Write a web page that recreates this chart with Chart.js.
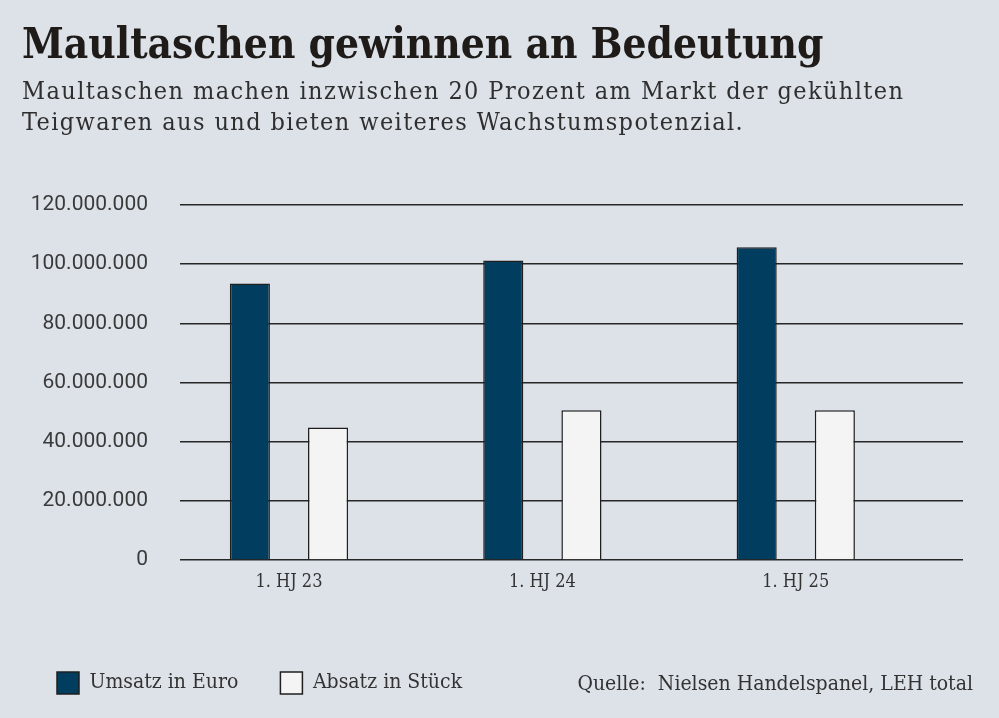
<!DOCTYPE html>
<html lang="de">
<head>
<meta charset="utf-8">
<title>Maultaschen gewinnen an Bedeutung</title>
<script src="https://cdn.jsdelivr.net/npm/chart.js@4/dist/chart.umd.min.js"></script>
<style>
    html, body {
        margin: 0;
        padding: 0;
        background: #dde2e9;
    }
    #page {
        position: relative;
        width: 999px;
        height: 718px;
        overflow: hidden;
        background: #dde2e9;
    }
    #chart-wrap {
        position: absolute;
        left: 0;
        top: 0;
        width: 999px;
        height: 718px;
    }
    .title {
        position: absolute;
        left: 22px;
        top: 16px;
        margin: 0;
        font-family: "DejaVu Serif Condensed", "DejaVu Serif", serif;
        font-stretch: condensed;
        font-weight: bold;
        font-size: 42px;
        letter-spacing: 0;
        line-height: 56px;
        color: #1e1b18;
        white-space: nowrap;
    }
    .subtitle {
        position: absolute;
        left: 22px;
        top: 75px;
        margin: 0;
        font-family: "DejaVu Serif Condensed", "DejaVu Serif", serif;
        font-stretch: condensed;
        font-size: 25px;
        letter-spacing: 1.4px;
        line-height: 31px;
        color: #2f2f2f;
        white-space: nowrap;
    }
    .source {
        position: absolute;
        right: 26px;
        top: 669px;
        font-family: "DejaVu Serif Condensed", "DejaVu Serif", serif;
        font-stretch: condensed;
        font-size: 21px;
        line-height: 28px;
        color: #333;
        white-space: pre;
    }
</style>
</head>
<body>
<div id="page">
    <div id="chart-wrap"><canvas id="chart"></canvas></div>
    <h1 class="title">Maultaschen gewinnen an Bedeutung</h1>
    <p class="subtitle">Maultaschen machen inzwischen 20 Prozent am Markt der gekühlten<br>Teigwaren aus und bieten weiteres Wachstumspotenzial.</p>
    <div class="source">Quelle:  Nielsen Handelspanel, LEH total</div>
</div>

<script>
// Werte
const categories = ['1. HJ 23', '1. HJ 24', '1. HJ 25'];
const umsatz = [93500000, 101200000, 105700000];
const absatz = [44800000, 50600000, 50600000];
const yTicks = [0, 20000000, 40000000, 60000000, 80000000, 100000000, 120000000];

const slab = '"DejaVu Serif Condensed", "DejaVu Serif", serif';

function formatDe(value) {
    return String(value).replace(/\B(?=(\d{3})+(?!\d))/g, '.');
}

function toPoints(values) {
    return values.map(function(v, i) {
        return { x: i, y: v };
    });
}

// Legende ein wenig nach links korrigieren
const legendShift = {
    id: 'legendShift',
    afterLayout: function(chart) {
        if (chart.legend) {
            chart.legend.left -= 5;
            chart.legend.right -= 5;
        }
    }
};

const ctx = document.getElementById('chart');

const config = {
    type: 'bar',
    data: {
        datasets: [
            {
                label: 'Umsatz in Euro',
                data: toPoints(umsatz),
                backgroundColor: '#003d5f',
                borderColor: '#1f1f1f',
                borderWidth: 1.5,
                categoryPercentage: 0.617,
                barPercentage: 0.513
            },
            {
                label: 'Absatz in Stück',
                data: toPoints(absatz),
                backgroundColor: '#f4f4f4',
                borderColor: '#1f1f1f',
                borderWidth: 1.5,
                categoryPercentage: 0.617,
                barPercentage: 0.513
            }
        ]
    },
    options: {
        responsive: true,
        maintainAspectRatio: false,
        animation: false,
        layout: {
            padding: { top: 205, right: 36, bottom: 14, left: 20 }
        },
        plugins: {
            tooltip: { enabled: false },
            legend: {
                position: 'bottom',
                align: 'start',
                labels: {
                    boxWidth: 22,
                    boxHeight: 22,
                    padding: 42,
                    color: '#333',
                    font: { family: slab, size: 21 },
                    generateLabels: function(chart) {
                        return chart.data.datasets.map(function(ds, i) {
                            return {
                                text: ds.label,
                                fillStyle: ds.backgroundColor,
                                strokeStyle: ds.borderColor,
                                lineWidth: 1.5,
                                fontColor: '#333',
                                datasetIndex: i
                            };
                        });
                    }
                }
            }
        },
        scales: {
            x: {
                type: 'linear',
                min: -0.43,
                max: 2.66,
                offset: false,
                grid: { display: false },
                border: { display: false },
                afterBuildTicks: function(scale) {
                    scale.ticks = categories.map(function(c, i) { return { value: i }; });
                },
                afterFit: function(scale) {
                    scale.height = 70;
                },
                ticks: {
                    padding: 4,
                    color: '#333',
                    font: { family: slab, size: 18 },
                    callback: function(value) {
                        return categories[value];
                    }
                }
            },
            y: {
                min: 0,
                max: 120000000,
                grid: {
                    color: '#262626',
                    lineWidth: 1.5,
                    drawTicks: false
                },
                border: { display: false },
                afterBuildTicks: function(scale) {
                    scale.ticks = yTicks.map(function(v) { return { value: v }; });
                },
                afterFit: function(scale) {
                    scale.width = 160;
                },
                ticks: {
                    padding: 32,
                    color: '#3a3a3a',
                    font: { family: 'Roboto, "Liberation Sans", sans-serif', size: 21 },
                    callback: function(value) {
                        return formatDe(value);
                    }
                }
            }
        }
    },
    plugins: [legendShift]
};

window.statsChart = new Chart(ctx, config);
</script>
</body>
</html>
